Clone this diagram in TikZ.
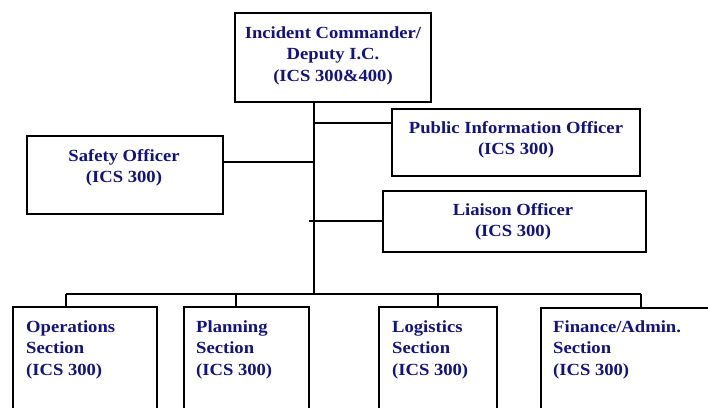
\documentclass[tikz,border=0pt]{standalone}
\usepackage{fontspec}
\setmainfont{Liberation Serif}
\newfontfamily\boxfont[FakeStretch=1.095]{Liberation Serif}
\definecolor{navytext}{RGB}{18,18,128}
\begin{document}
\begin{tikzpicture}[x=1pt,y=-1pt,
  box/.style={draw=black,line width=1.6pt,inner sep=0pt,fill=white},
  txt/.style={font=\boxfont\fontsize{17}{21.5}\selectfont\bfseries,text=navytext,inner sep=0pt},
  link/.style={draw=black,line width=1.6pt}]
\useasboundingbox (0,0) rectangle (708,407);
\clip (0,0) rectangle (708,407);
% boxes
\node[box,minimum width=196pt,minimum height=89pt] (ic) at (333,57.5) {};
\node[box,minimum width=248pt,minimum height=67pt] (pio) at (516,142.5) {};
\node[box,minimum width=196pt,minimum height=78pt] (safety) at (125,175) {};
\node[box,minimum width=263pt,minimum height=61pt] (liaison) at (514.5,221.5) {};
\node[box,minimum width=144pt,minimum height=133pt] (ops) at (85,373.5) {};
\node[box,minimum width=125pt,minimum height=133pt] (plan) at (246.5,373.5) {};
\node[box,minimum width=118pt,minimum height=133pt] (log) at (438,373.5) {};
\node[box,minimum width=220pt,minimum height=133pt] (fin) at (651,374.5) {};
% texts
\node[txt,align=center] (ict) at (333,55.5) {Incident Commander/\\Deputy I.C.\\(ICS 300\&400)};
\node[txt,align=center] (piot) at (516,140) {Public Information Officer\\(ICS 300)};
\node[txt,align=center] (safetyt) at (124,168) {Safety Officer\\(ICS 300)};
\node[txt,align=center] (liaisont) at (513,222) {Liaison Officer\\(ICS 300)};
\node[txt,align=left,anchor=north west] (opst) at (26,320) {Operations\\Section\\(ICS 300)};
\node[txt,align=left,anchor=north west] (plant) at (196,320) {Planning\\Section\\(ICS 300)};
\node[txt,align=left,anchor=north west] (logt) at (392,320) {Logistics\\Section\\(ICS 300)};
\node[txt,align=left,anchor=north west] (fint) at (553,320) {Finance/Admin.\\Section\\(ICS 300)};
% connector points
\coordinate (trunk) at (314,294);
\coordinate (busL) at (66,294);
\coordinate (busR) at (641,294);
\coordinate (planDrop) at (236,294);
\coordinate (liaisonTick) at (309,221);
% connectors
\draw[link] (trunk |- ic.south) -- (trunk);
\draw[link] (trunk |- 0,123) -- (pio.west |- 0,123);
\draw[link] (safety.east |- 0,162) -- (trunk |- 0,162);
\draw[link] (liaisonTick) -- (liaison.west |- liaisonTick);
\draw[link] (busL) -- (busR);
\draw[link] (busL) -- (busL |- ops.north);
\draw[link] (planDrop) -- (planDrop |- plan.north);
\draw[link] (log.north |- busL) -- (log.north);
\draw[link] (busR) -- (busR |- fin.north);
\end{tikzpicture}
\end{document}
